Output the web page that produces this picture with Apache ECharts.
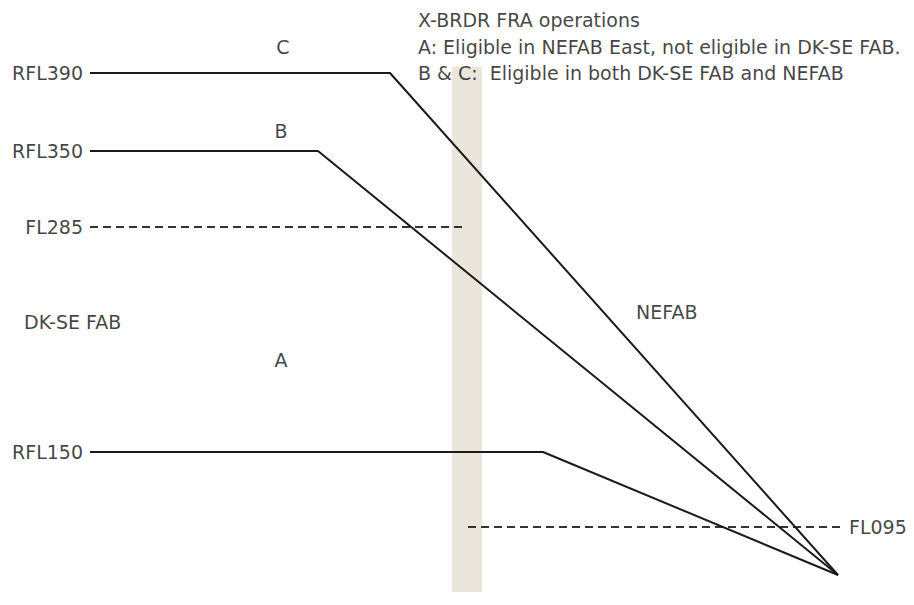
<!DOCTYPE html>
<html><head><meta charset="utf-8">
<script src="https://cdn.jsdelivr.net/npm/echarts@6/dist/echarts.min.js"></script>
<style>html,body{margin:0;padding:0;background:#fff}#c{width:914px;height:605px}</style>
</head><body><div id="c"></div>
<script>
// Diagram coordinate space (schematic, x: along-track, y: schematic level, top = 0)
const routeNames = ['C', 'B', 'A'];
const routeLabels = ['RFL390', 'RFL350', 'RFL150'];
const routeLevels = [73, 151, 452];
const routeStartX = [90, 90, 90];
const routeTurnX = [390, 318, 543];
const sinkPoint = [838, 575];
const limitLabels = ['FL285', 'FL095'];
const limitLevels = [227, 527];
const limitFromX = [90, 468];
const limitToX = [465, 840];
const borderBand = [452, 482, 67, 592];
const titleLines = ['X-BRDR FRA operations', 'A: Eligible in NEFAB East, not eligible in DK-SE FAB.', 'B & C:  Eligible in both DK-SE FAB and NEFAB'];
const regionNames = ['DK-SE FAB', 'NEFAB'];

const font = 'DejaVu Sans';
const txt = '#111';
const series = [];
routeNames.forEach((n, i) => {
  series.push({
    type: 'line', name: n, showSymbol: false, silent: true, animation: false,
    lineStyle: { color: '#1a1a1a', width: 2 },
    data: [[routeStartX[i], routeLevels[i]], [routeTurnX[i], routeLevels[i]], sinkPoint],
    z: 3
  });
});
limitLabels.forEach((n, i) => {
  series.push({
    type: 'line', name: n, showSymbol: false, silent: true, animation: false,
    lineStyle: { color: '#333', width: 1.8, type: [8, 5] },
    data: [[limitFromX[i], limitLevels[i]], [limitToX[i], limitLevels[i]]],
    z: 2
  });
});
// border band
series.push({
  type: 'line', data: [], silent: true, animation: false,
  markArea: { silent: true, itemStyle: { color: '#ebe6dc' },
    data: [[{ xAxis: borderBand[0], yAxis: borderBand[2] }, { xAxis: borderBand[1], yAxis: borderBand[3] }]] },
  z: 1
});
// text labels
const lab = (x, y, text, align) => ({ value: [x, y], text, align });
const labels = [];
routeNames.forEach((n, i) => {
  labels.push(lab(routeStartX[i] - 7, routeLevels[i], routeLabels[i], 'right'));
});
labels.push(lab(283, 47, 'C', 'center'));
labels.push(lab(281, 131, 'B', 'center'));
labels.push(lab(281, 360, 'A', 'center'));
labels.push(lab(limitFromX[0] - 7, limitLevels[0], limitLabels[0], 'right'));
labels.push(lab(limitToX[1] + 9, limitLevels[1], limitLabels[1], 'left'));
labels.push(lab(24, 322, regionNames[0], 'left'));
labels.push(lab(636, 312, regionNames[1], 'left'));
labels.push(lab(418, 20, titleLines[0], 'left'));
labels.push(lab(418, 47, titleLines[1], 'left'));
labels.push(lab(418, 73, titleLines[2], 'left'));

series.push({
  type: 'scatter', symbolSize: 0, silent: true, animation: false, z: 5,
  data: labels.map(l => ({ value: l.value, label: { show: true, position: 'inside', formatter: l.text, align: l.align, verticalAlign: 'middle', color: txt, fontSize: 19, fontFamily: font } }))
});

const chart = echarts.init(document.getElementById('c'), null, { renderer: 'svg' });
chart.setOption({
  backgroundColor: '#fff',
  grid: { left: 0, right: 0, top: 0, bottom: 0 },
  xAxis: { type: 'value', min: 0, max: 914, show: false },
  yAxis: { type: 'value', min: 0, max: 605, inverse: true, show: false },
  series
});
</script></body></html>
